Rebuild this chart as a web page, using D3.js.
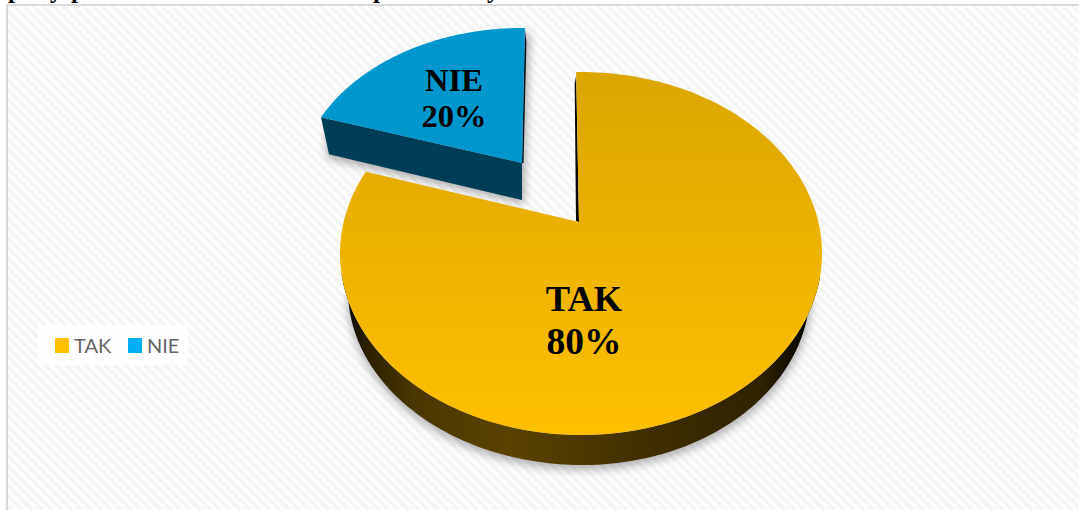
<!DOCTYPE html>
<html><head><meta charset="utf-8">
<script src="https://cdn.jsdelivr.net/npm/d3@7/dist/d3.min.js"></script>
<style>html,body{margin:0;padding:0;background:#fff}svg{display:block}</style>
</head><body>
<svg id="c" width="1079" height="510"></svg>
<script>
const categories = ["TAK", "NIE"];
const values = [80, 20];
const valueLabels = ["80%", "20%"];
const colors = ["#ffc000", "#00b0f0"];
const titleFragments = ["p", "y", "p", "p", "y"];
const titleX = [8, 50, 71, 373, 487];

const svg = d3.select("#c");
const defs = svg.append("defs");
const hatch = defs.append("pattern").attr("id","hatch").attr("width",7).attr("height",7)
  .attr("patternUnits","userSpaceOnUse").attr("patternTransform","rotate(45)");
hatch.append("rect").attr("width",7).attr("height",7).attr("fill","#fdfdfd");
hatch.append("rect").attr("width",7).attr("height",3.5).attr("fill","#f4f4f4");
const g1 = defs.append("linearGradient").attr("id","topGold").attr("x1",0).attr("x2",0).attr("y1",0).attr("y2",1);
g1.append("stop").attr("offset",0).attr("stop-color","#dba600");
g1.append("stop").attr("offset",1).attr("stop-color","#ffc000");
const g2 = defs.append("linearGradient").attr("id","wallGold").attr("x1",0).attr("x2",1).attr("y1",0).attr("y2",0);
[[0,"#000"],[0.05,"#2a1f00"],[0.15,"#4a3700"],[0.35,"#5a4300"],[0.65,"#3f2e00"],[0.88,"#2e2200"],[0.98,"#000"],[1,"#000"]]
  .forEach(d=>g2.append("stop").attr("offset",d[0]).attr("stop-color",d[1]));
defs.append("filter").attr("id","blur").attr("x","-20%").attr("y","-20%").attr("width","140%").attr("height","140%")
  .append("feGaussianBlur").attr("stdDeviation",4);

svg.append("rect").attr("width",1079).attr("height",510).attr("fill","url(#hatch)");
svg.append("rect").attr("x",0).attr("y",0).attr("width",6).attr("height",510).attr("fill","#fff");
svg.append("rect").attr("x",0).attr("y",0).attr("width",1079).attr("height",4).attr("fill","#fff");
svg.append("rect").attr("x",6).attr("y",4).attr("width",2).attr("height",506).attr("fill","#d9d9d9");
svg.append("rect").attr("x",6).attr("y",4).attr("width",1073).attr("height",2).attr("fill","#d9d9d9");

svg.append("g").selectAll("text").data(titleFragments).join("text")
  .attr("x",(d,i)=>titleX[i]).attr("y",-2).attr("font-family","Liberation Serif")
  .attr("font-weight","bold").attr("font-size",25).attr("fill","#000").text(d=>d);

const pie = d3.pie().sort(null).value(d=>d)(values);
const TAU = Math.PI*2;
const main = {cx:581, cy:253.5, rx:241, ry:181.5, apex:[579,222]};
const blue = {cx:522, cy:190, rx:225, ry:162, apex:[522,163]};
const mainT = d3.scaleLinear().domain([0, pie[0].endAngle]).range([-0.02, 5.18]);
const blueT = d3.scaleLinear().domain([pie[1].startAngle, TAU]).range([-1.105, 0.013]);
const pt = (e,t)=>{const s=Math.sin(t);return [e.cx+(s<0&&e.rxL?e.rxL:e.rx)*s, e.cy-e.ry*Math.cos(t)];};
const line = d3.line();
const arcPts = (e,a,b,n=90)=>d3.range(n+1).map(i=>pt(e,a+(b-a)*i/n));

const mainTop = [main.apex, ...arcPts(main, mainT(pie[0].startAngle), mainT(pie[0].endAngle), 240)];
const blueTop = [blue.apex, ...arcPts(blue, blueT(pie[1].startAngle), blueT(pie[1].endAngle))];

const low = {cx:583, cy:290, rx:227, rxL:235, ry:175};
const lowArc = arcPts(low, 1.55, 4.75, 140);
const topArc = arcPts(main, 4.6, 1.7, 140);

svg.append("path").attr("d",line(arcPts({cx:583,cy:294,rx:229,rxL:236,ry:176},1.6,4.7,120))+"Z")
  .attr("fill","#000").attr("opacity",0.28).attr("filter","url(#blur)");
const tip = blueTop[1], tipLow=[tip[0]+8,tip[1]+37], apexLow=[blue.apex[0],blue.apex[1]+37];
const br = blueTop[blueTop.length-1];
svg.append("path").attr("d",line([[tip[0]+6,tip[1]+10],[tipLow[0]-2,tipLow[1]+4],[apexLow[0]+2,apexLow[1]+4],[br[0]+5,br[1]+4]])+"Z")
  .attr("fill","#000").attr("opacity",0.3).attr("filter","url(#blur)");

svg.append("path").attr("d",line([...lowArc,...topArc])+"Z").attr("fill","url(#wallGold)");
const fp = mainTop[1];
svg.append("path").attr("d",line([[fp[0],fp[1]+3],main.apex,[main.apex[0]-3,main.apex[1]-1],[fp[0]-1.5,fp[1]+12]])+"Z").attr("fill","#0c0900");
svg.append("path").attr("d",line(mainTop)+"Z").attr("fill","url(#topGold)");

svg.append("path").attr("d",line([[br[0],br[1]+2],[br[0]+1.5,br[1]+14],[blue.apex[0]+1.5,blue.apex[1]],blue.apex])+"Z").attr("fill","#00131c");
svg.append("path").attr("d",line([tip,tipLow,apexLow,blue.apex])+"Z").attr("fill","#003d56");
svg.append("path").attr("d",line(blueTop)+"Z").attr("fill","#0097cd");

const labels = [{x:584,y1:311,y2:354,fs1:36.5,fs2:37.5},{x:454,y1:91,y2:127,fs1:32.5,fs2:32.5}];
labels.forEach((l,i)=>{
  const t = svg.append("text").attr("text-anchor","middle").attr("font-family","Liberation Serif")
    .attr("font-weight","bold").attr("fill","#000");
  t.append("tspan").attr("x",l.x).attr("y",l.y1).attr("font-size",l.fs1).text(categories[i]);
  t.append("tspan").attr("x",l.x).attr("y",l.y2).attr("font-size",l.fs2).text(valueLabels[i]);
});

svg.append("rect").attr("x",38).attr("y",325).attr("width",150).attr("height",40).attr("fill","#fff").attr("opacity",0.85);
const legX = [55, 128], legTx=[74,147];
categories.forEach((c,i)=>{
  svg.append("rect").attr("x",legX[i]).attr("y",338).attr("width",14).attr("height",15).attr("fill",colors[i]);
  svg.append("text").attr("x",legTx[i]).attr("y",352.5).attr("font-family","Lato").attr("font-size",20).attr("fill","#666").text(c);
});
</script>
</body></html>
